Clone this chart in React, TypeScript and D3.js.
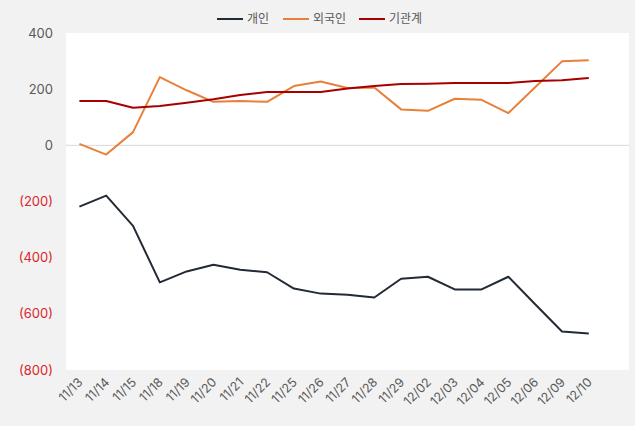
import React from "react";
import * as d3 from "d3";

const dates = ["11/13","11/14","11/15","11/18","11/19","11/20","11/21","11/22","11/25","11/26","11/27","11/28","11/29","12/02","12/03","12/04","12/05","12/06","12/09","12/10"];
const individual = [-218,-179,-287,-488,-449,-425,-443,-452,-510,-528,-532,-542,-475,-468,-513,-513,-468,-566,-663,-670];
const foreign = [5,-33,47,243,196,155,158,155,211,227,204,206,128,123,166,162,115,207,299,303];
const institution = [158,158,134,140,152,164,179,190,190,190,202,211,218,219,222,222,222,229,232,240];
const yTicks = [400,200,0,-200,-400,-600,-800];

const seriesList = [
  { name: "개인", values: individual, color: "#222a35" },
  { name: "외국인", values: foreign, color: "#e8803a" },
  { name: "기관계", values: institution, color: "#a80000" },
];

const W = 635, H = 426;
const plotL = 66, plotR = 629, plotT = 33, plotB = 370;

export default function App() {
  const step = (plotR - plotL) / (dates.length + 1);
  const x = d3.scaleBand<string>().domain(dates).range([plotL, plotL + step * dates.length]);
  const y = d3.scaleLinear().domain([-800, 400]).range([plotB, plotT]);
  const cx = (d: string) => (x(d) as number) + x.bandwidth() / 2;
  const line = d3.line<number>().x((_, i) => cx(dates[i])).y((v) => y(v));
  const fmt = (v: number) => (v < 0 ? `(${Math.abs(v)})` : `${v}`);
  const legendX = [217, 283, 359];
  return (
    <svg width={W} height={H} style={{ position: "absolute", left: 0, top: 0, fontFamily: "Inter, 'Noto Sans CJK KR', sans-serif" }}>
      <rect x={0} y={0} width={W} height={H} fill="#f2f2f2" />
      <rect x={plotL} y={plotT} width={plotR - plotL} height={plotB - plotT} fill="#ffffff" />
      <line x1={plotL} x2={plotR} y1={y(0)} y2={y(0)} stroke="#d9d9d9" strokeWidth={1} />
      {yTicks.map((t) => (
        <text key={t} x={53} y={y(t)} dy="0.35em" textAnchor="end" fontSize={13} fill={t < 0 ? "#d9262a" : "#595959"}>
          {fmt(t)}
        </text>
      ))}
      {dates.map((d) => (
        <text key={d} transform={`translate(${cx(d) + 4},${plotB + 13}) rotate(-45)`} textAnchor="end" fontSize={12.5} fill="#595959">
          {d}
        </text>
      ))}
      {seriesList.map((s) => (
        <path key={s.name} d={line(s.values) || ""} fill="none" stroke={s.color} strokeWidth={2} strokeLinejoin="round" />
      ))}
      {seriesList.map((s, i) => (
        <g key={s.name}>
          <line x1={legendX[i]} x2={legendX[i] + 26} y1={19} y2={19} stroke={s.color} strokeWidth={2} />
          <text x={legendX[i] + 30} y={19} dy="0.35em" fontSize={12} fill="#595959">{s.name}</text>
        </g>
      ))}
    </svg>
  );
}
